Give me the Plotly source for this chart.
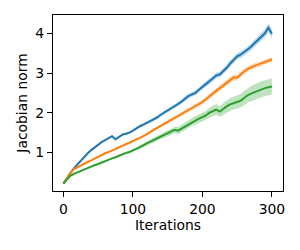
import plotly.graph_objects as go

iterations = list(range(0, 301, 5))

blue_mean = [0.22, 0.36, 0.48, 0.60, 0.70, 0.80, 0.90, 0.98, 1.06, 1.13,
             1.20, 1.26, 1.31, 1.36, 1.41, 1.33, 1.40, 1.45, 1.47, 1.50,
             1.55, 1.61, 1.66, 1.70, 1.74, 1.78, 1.83, 1.88, 1.95, 2.00,
             2.05, 2.11, 2.17, 2.22, 2.28, 2.36, 2.42, 2.46, 2.50, 2.58,
             2.66, 2.72, 2.79, 2.86, 2.94, 2.96, 3.04, 3.13, 3.24, 3.32,
             3.42, 3.46, 3.52, 3.58, 3.66, 3.75, 3.84, 3.92, 4.00, 4.14,
             3.99]
orange_mean = [0.22, 0.36, 0.48, 0.58, 0.63, 0.67, 0.71, 0.76, 0.80, 0.85,
               0.89, 0.93, 0.98, 1.01, 1.05, 1.09, 1.13, 1.16, 1.19, 1.23,
               1.27, 1.31, 1.36, 1.41, 1.46, 1.52, 1.57, 1.62, 1.67, 1.72,
               1.77, 1.83, 1.87, 1.92, 1.97, 2.02, 2.06, 2.11, 2.18, 2.21,
               2.27, 2.34, 2.42, 2.48, 2.55, 2.62, 2.70, 2.75, 2.82, 2.89,
               2.88, 2.97, 3.04, 3.10, 3.15, 3.18, 3.21, 3.25, 3.28, 3.31,
               3.34]
green_mean = [0.22, 0.33, 0.41, 0.46, 0.50, 0.54, 0.58, 0.61, 0.65, 0.68,
              0.71, 0.75, 0.78, 0.81, 0.85, 0.88, 0.92, 0.95, 0.99, 1.01,
              1.05, 1.08, 1.13, 1.18, 1.23, 1.27, 1.31, 1.36, 1.41, 1.44,
              1.48, 1.52, 1.57, 1.55, 1.60, 1.66, 1.71, 1.77, 1.81, 1.85,
              1.89, 1.93, 2.00, 2.05, 2.08, 2.03, 2.10, 2.16, 2.21, 2.24,
              2.27, 2.30, 2.37, 2.44, 2.48, 2.52, 2.56, 2.59, 2.62, 2.64,
              2.66]

blue_spread = [0.00, 0.01, 0.01, 0.01, 0.01, 0.01, 0.01, 0.01, 0.02, 0.02,
               0.02, 0.02, 0.02, 0.02, 0.03, 0.03, 0.03, 0.03, 0.03, 0.03,
               0.03, 0.03, 0.04, 0.04, 0.04, 0.04, 0.04, 0.05, 0.05, 0.05,
               0.05, 0.05, 0.05, 0.05, 0.05, 0.06, 0.06, 0.06, 0.06, 0.06,
               0.06, 0.06, 0.07, 0.07, 0.07, 0.07, 0.07, 0.07, 0.08, 0.08,
               0.08, 0.08, 0.08, 0.08, 0.09, 0.09, 0.09, 0.10, 0.10, 0.11,
               0.11]
orange_spread = [0.00, 0.01, 0.01, 0.01, 0.01, 0.01, 0.01, 0.01, 0.01, 0.01,
                 0.02, 0.02, 0.02, 0.02, 0.02, 0.02, 0.02, 0.02, 0.02, 0.03,
                 0.03, 0.03, 0.03, 0.03, 0.03, 0.03, 0.03, 0.04, 0.04, 0.04,
                 0.04, 0.04, 0.04, 0.04, 0.04, 0.05, 0.05, 0.05, 0.06, 0.06,
                 0.06, 0.06, 0.06, 0.06, 0.06, 0.07, 0.07, 0.07, 0.08, 0.08,
                 0.08, 0.07, 0.07, 0.07, 0.07, 0.07, 0.06, 0.06, 0.06, 0.06,
                 0.06]
green_spread = [0.00, 0.01, 0.01, 0.01, 0.01, 0.01, 0.01, 0.01, 0.02, 0.02,
                0.02, 0.02, 0.02, 0.02, 0.02, 0.02, 0.03, 0.03, 0.03, 0.03,
                0.04, 0.04, 0.05, 0.05, 0.05, 0.06, 0.06, 0.06, 0.07, 0.07,
                0.08, 0.08, 0.08, 0.09, 0.09, 0.09, 0.10, 0.10, 0.11, 0.11,
                0.12, 0.12, 0.13, 0.13, 0.14, 0.14, 0.15, 0.15, 0.16, 0.16,
                0.17, 0.17, 0.18, 0.18, 0.19, 0.19, 0.20, 0.20, 0.20, 0.21,
                0.21]

x_tick_vals = [0, 100, 200, 300]
y_tick_vals = [1, 2, 3, 4]

series = [
    (blue_mean, blue_spread, "#1f77b4", "rgba(31,119,180,0.3)"),
    (orange_mean, orange_spread, "#ff7f0e", "rgba(255,127,14,0.3)"),
    (green_mean, green_spread, "#2ca02c", "rgba(44,160,44,0.3)"),
]

fig = go.Figure()
for mean, spread, color, fill in series:
    upper = [m + s for m, s in zip(mean, spread)]
    lower = [m - s for m, s in zip(mean, spread)]
    fig.add_trace(go.Scatter(x=iterations, y=upper, mode="lines",
                             line=dict(width=0), showlegend=False, hoverinfo="skip"))
    fig.add_trace(go.Scatter(x=iterations, y=lower, mode="lines",
                             line=dict(width=0), fill="tonexty", fillcolor=fill,
                             showlegend=False, hoverinfo="skip"))
for mean, spread, color, fill in series:
    fig.add_trace(go.Scatter(x=iterations, y=mean, mode="lines",
                             line=dict(color=color, width=2), showlegend=False))

font = dict(family="DejaVu Sans", size=13.9, color="black")
axis_common = dict(
    showgrid=False, zeroline=False, showline=True, linecolor="black",
    linewidth=1.1, mirror=True, ticks="outside", ticklen=5, tickcolor="black",
    tickwidth=1.1, tickfont=font,
)
fig.update_layout(
    width=292, height=242,
    margin=dict(l=45, r=17, t=7, b=59),
    paper_bgcolor="white", plot_bgcolor="white",
    xaxis=dict(range=[-15, 316], tickvals=x_tick_vals,
               title=dict(text="Iterations", standoff=3, font=font),
               **axis_common),
    yaxis=dict(range=[0.03, 4.46], tickvals=y_tick_vals,
               title=dict(text="Jacobian norm", standoff=4, font=font),
               **axis_common),
)
fig.write_html("out.html")
